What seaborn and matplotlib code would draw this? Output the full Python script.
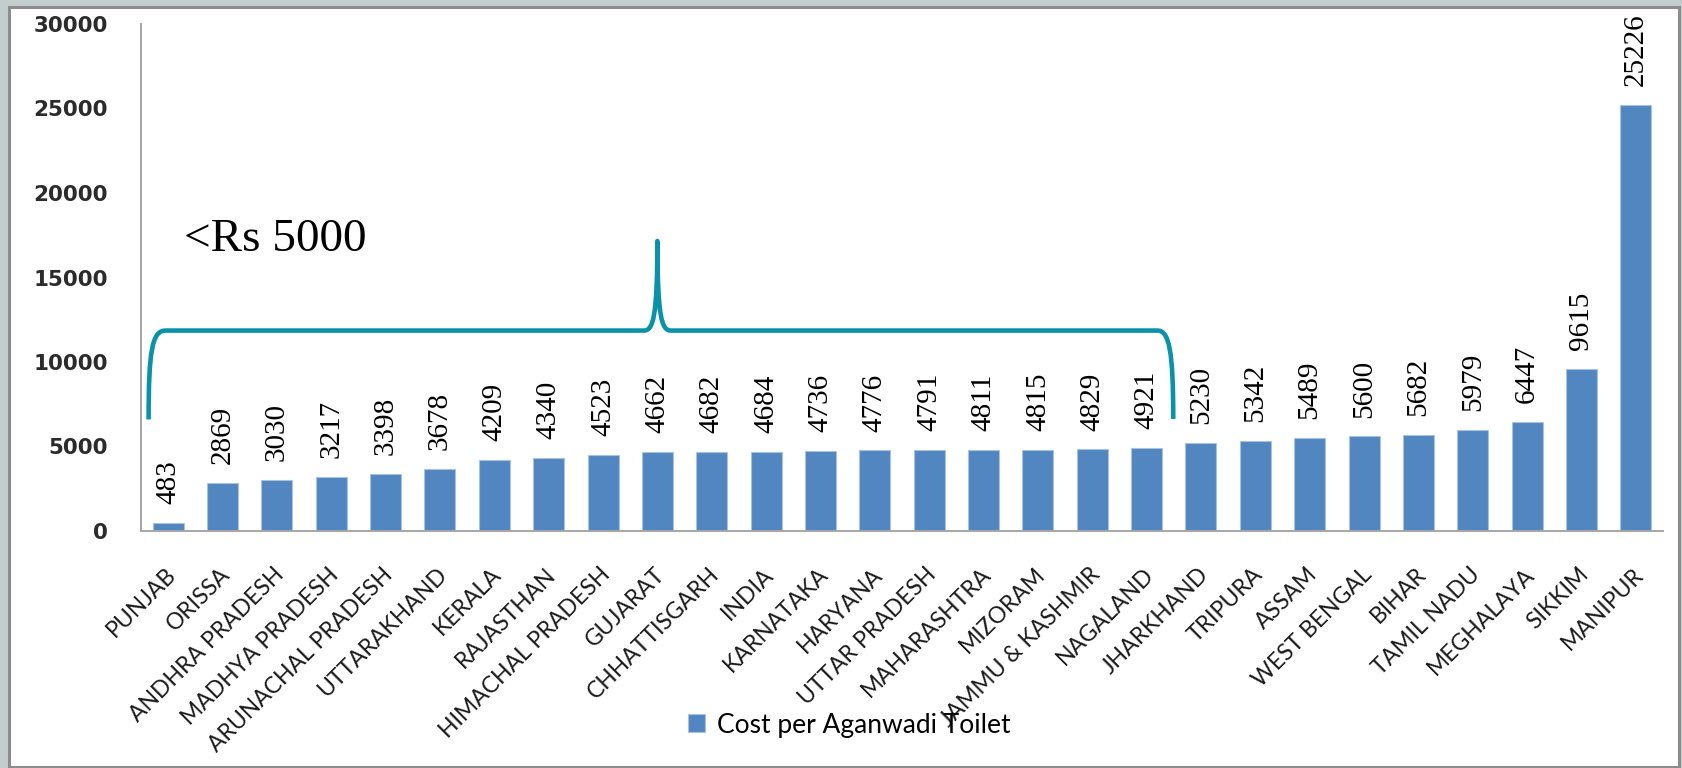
import numpy as np
import pandas as pd
import seaborn as sb
import matplotlib
matplotlib.use("Agg")
import matplotlib.pyplot as plt
from matplotlib.path import Path
from matplotlib.patches import PathPatch, Rectangle, Patch
from matplotlib.transforms import ScaledTranslation

states = ["PUNJAB", "ORISSA", "ANDHRA PRADESH", "MADHYA PRADESH", "ARUNACHAL PRADESH",
          "UTTARAKHAND", "KERALA", "RAJASTHAN", "HIMACHAL PRADESH", "GUJARAT",
          "CHHATTISGARH", "INDIA", "KARNATAKA", "HARYANA", "UTTAR PRADESH",
          "MAHARASHTRA", "MIZORAM", "JAMMU & KASHMIR", "NAGALAND", "JHARKHAND",
          "TRIPURA", "ASSAM", "WEST BENGAL", "BIHAR", "TAMIL NADU",
          "MEGHALAYA", "SIKKIM", "MANIPUR"]
cost = [483, 2869, 3030, 3217, 3398, 3678, 4209, 4340, 4523, 4662,
        4682, 4684, 4736, 4776, 4791, 4811, 4815, 4829, 4921, 5230,
        5342, 5489, 5600, 5682, 5979, 6447, 9615, 25226]
yticks = [0, 5000, 10000, 15000, 20000, 25000, 30000]
series_name = "Cost per Aganwadi Toilet"
note = "<Rs 5000"

df = pd.DataFrame({"state": states, "cost": cost})

W, H = 1682, 768
fig = plt.figure(figsize=(W / 100, H / 100), dpi=100)
fig.patch.set_facecolor("#c3cecc")
fig.patches.append(Rectangle((9 / W, 1 - 767 / H), 1670 / W, 760 / H,
                             transform=fig.transFigure, facecolor="white",
                             edgecolor="#8c8c8c", linewidth=2.2, zorder=-5))

ax = fig.add_axes([141 / W, 1 - 531 / H, 1522 / W, 507 / H])
ax.set_facecolor("none")

bar_col = "#5286c1"
sb.barplot(data=df, x="state", y="cost", color=bar_col, width=0.57,
           saturation=1, edgecolor="#a9c2e0", linewidth=0.8, ax=ax)

ax.bar_label(ax.containers[0], labels=[str(v) for v in cost], rotation=90,
             padding=13.5, fontsize=21, family="Liberation Serif", color="black")

ax.set_xlim(-0.5, len(states) - 0.5)
ax.set_ylim(0, 30000)
ax.set_yticks(yticks)
ax.set_yticklabels([str(v) for v in yticks], fontsize=15.5, fontweight="bold",
                   family="DejaVu Sans", color="#2b2b2b")
ax.tick_params(axis="y", length=0, pad=24)
ax.tick_params(axis="x", length=0, pad=29)
ax.set_xlabel("")
ax.set_ylabel("")
for s in ["top", "right"]:
    ax.spines[s].set_visible(False)
for s in ["left", "bottom"]:
    ax.spines[s].set_color("#a6a6a6")
    ax.spines[s].set_linewidth(1.4)

ax.set_xticks(range(len(states)))
ax.set_xticklabels(states, rotation=45, ha="right", va="center",
                   rotation_mode="anchor", fontsize=16.5, family="Lato", color="#1a1a1a")
shift = ScaledTranslation(0.04, 0, fig.dpi_scale_trans)
for lab in ax.get_xticklabels():
    lab.set_transform(lab.get_transform() + shift)

# curly bracket over the states under Rs 5000
verts = [(-0.36, 6600),
         (-0.36, 10600), (-0.30, 11860), (-0.05, 11860),
         (8.75, 11860),
         (8.92, 11860), (9.0, 12600), (9.0, 17160),
         (9.0, 12600), (9.08, 11860), (9.25, 11860),
         (18.2, 11860),
         (18.42, 11860), (18.49, 10600), (18.49, 6630)]
codes = [Path.MOVETO,
         Path.CURVE4, Path.CURVE4, Path.CURVE4,
         Path.LINETO,
         Path.CURVE4, Path.CURVE4, Path.CURVE4,
         Path.CURVE4, Path.CURVE4, Path.CURVE4,
         Path.LINETO,
         Path.CURVE4, Path.CURVE4, Path.CURVE4]
ax.add_patch(PathPatch(Path(verts, codes), facecolor="none", edgecolor="#0a93a8",
                       linewidth=3.3, capstyle="butt", joinstyle="round",
                       clip_on=False, zorder=4))
ax.text(0.3, 16560, note, fontsize=34, family="Liberation Serif", va="baseline",
        ha="left", color="black")

handle = Patch(facecolor=bar_col, edgecolor="#a9c2e0", linewidth=0.8)
fig.legend([handle], [series_name], loc="center", bbox_to_anchor=(0.505, 1 - 725 / H),
           frameon=False, handlelength=0.65, handleheight=0.65, handletextpad=0.45,
           prop={"family": "Lato", "size": 19})

fig.savefig("out.png", dpi=100, facecolor=fig.get_facecolor())
